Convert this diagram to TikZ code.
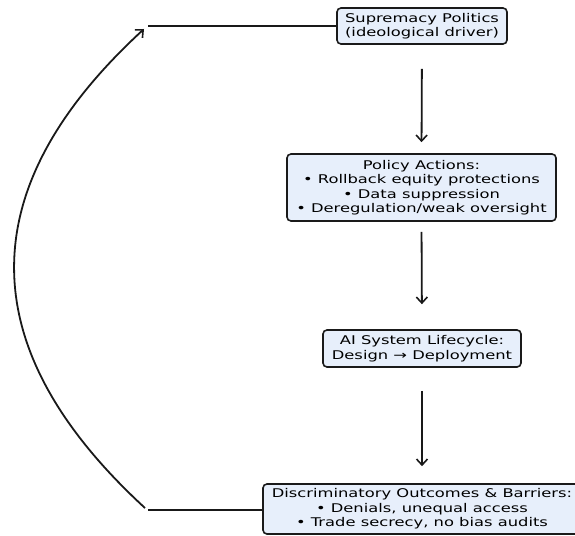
\documentclass[tikz,border=0pt]{standalone}
\usepackage{fontspec}
\setmainfont[FakeStretch=1.36]{DejaVu Sans}
\usetikzlibrary{arrows.meta}
\definecolor{boxfill}{HTML}{E7EFFB}
\definecolor{boxdraw}{HTML}{1A1A1A}
\tikzset{
  box/.style={draw=boxdraw, line width=1.6pt, fill=boxfill, rounded corners=4pt,
    align=center, inner sep=0pt, font=\fontsize{12}{14.5}\selectfont},
  flow/.style={line width=1.8pt, draw=black!90, -{Straight Barb[length=6pt,width=11pt,line width=1.6pt]}},
  link/.style={line width=1.8pt, draw=black!90}
}
\begin{document}
\begin{tikzpicture}[x=1pt,y=-1pt]
\useasboundingbox (0,0) rectangle (575,535);
\node[box, minimum width=170, minimum height=36] (sup) at (422,26)
  {Supremacy Politics\\(ideological driver)};
\node[box, minimum width=269, minimum height=67] (pol) at (421.5,187.5)
  {Policy Actions:\\• Rollback equity protections\\• Data suppression\\• Deregulation/weak oversight};
\node[box, minimum width=198, minimum height=37] (ai) at (422,348.5)
  {AI System Lifecycle:\\Design → Deployment};
\node[box, minimum width=318, minimum height=50] (dis) at (422,509)
  {Discriminatory Outcomes \& Barriers:\\• Denials, unequal access\\• Trade secrecy, no bias audits};

\draw[flow, shorten <=24pt, shorten >=11pt] (sup.south) -- (pol.north);
\draw[flow, shorten <=10pt, shorten >=25pt] (pol.south) -- (ai.north);
\draw[flow, shorten <=23pt, shorten >=17pt] (ai.south) -- (dis.north);

\coordinate (fbB) at (148,510);
\coordinate (fbT) at (148,26);
\coordinate (cs) at (145,508);
\coordinate (ce) at (144,29);
\draw[link] (dis.west |- fbB) -- (fbB);
\draw[link] (fbT) -- (sup.west |- fbT);
\draw[flow] (cs) .. controls (-29,348) and (-29.3,188.3) .. (ce);
\end{tikzpicture}
\end{document}
